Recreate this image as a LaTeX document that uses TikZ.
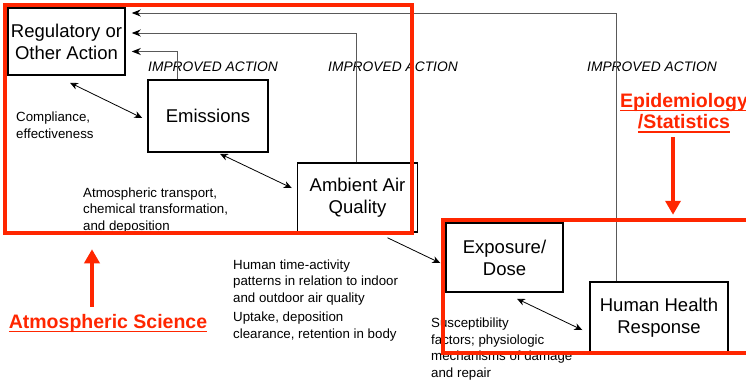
\documentclass[tikz,border=0pt]{standalone}
\usepackage{fontspec}
\setmainfont{Liberation Sans}
\usetikzlibrary{arrows.meta,calc}
\definecolor{myred}{RGB}{255,38,0}
\newcommand{\redul}[1]{\setbox0=\hbox{#1}\rlap{\rule[-4pt]{\wd0}{1.5pt}}\box0}
\begin{document}
\begin{tikzpicture}[x=1pt,y=-1pt,
  box/.style={draw=black,line width=1.5pt,fill=white,align=center,inner sep=0pt,font=\fontsize{18.5}{22}\selectfont},
  lbl/.style={anchor=base west,align=left,inner sep=0pt,font=\fontsize{13.3}{16.5}\selectfont},
  imp/.style={anchor=base west,inner sep=0pt,font=\fontsize{13.8}{16}\selectfont\itshape},
  conn/.style={line width=0.8pt,{Stealth[length=8pt,width=7pt]}-{Stealth[length=8pt,width=7pt]}},
  one/.style={line width=0.8pt,-{Stealth[length=8pt,width=7pt]}},
  fb/.style={line width=0.9pt,draw=black!65,-{Stealth[length=9pt,width=7pt,color=black]}},
  redbox/.style={draw=myred,line width=4.5pt,inner sep=0pt},
  redlbl/.style={text=myred,font=\fontsize{19.5}{21.5}\selectfont\bfseries,align=center,inner sep=0pt},
  redarr/.style={draw=myred,line width=3.5pt,-{Triangle[length=14pt,width=15pt]}}
]
\useasboundingbox (0,0) rectangle (746,380);
\fill[white] (0,0) rectangle (746,380);

% boxes
\node[box,minimum width=117pt,minimum height=67pt] (reg) at (66.5,41.5) {Regulatory or\\Other Action};
\node[box,minimum width=120pt,minimum height=72pt] (em) at (208,116) {Emissions};
\node[box,minimum width=120pt,minimum height=69pt] (amb) at (357.5,197.5) {Ambient Air\\Quality};
\node[box,minimum width=117pt,minimum height=69pt] (expo) at (504.5,257.5) {Exposure/\\Dose};
\node[box,minimum width=138pt,minimum height=71pt] (hh) at (659,317.5) {Human Health\\Response};

% labels (anchor base = baseline of last line)
\node[imp] (imp1) at (148,71) {IMPROVED ACTION};
\node[imp] (imp2) at (328,71) {IMPROVED ACTION};
\node[imp] (imp3) at (587,71) {IMPROVED ACTION};
\node[lbl] (l1) at (16,138) {Compliance,\\effectiveness};
\node[lbl] (l2) at (83,230) {Atmospheric transport,\\chemical transformation,\\and deposition};
\node[lbl] (l3) at (233,302) {Human time-activity\\patterns in relation to indoor\\and outdoor air quality};
\node[lbl] (l4) at (233,338) {Uptake, deposition\\clearance, retention in body};
\node[lbl] (l5) at (431,377) {Susceptibility\\factors; physiologic\\mechanisms of damage\\and repair};

% feedback lines
\draw[fb] ($(hh.north)+(-43,0)$) |- ($(reg.east)+(6,-28.5)$);
\draw[fb] ($(amb.north)+(-1,0)$) |- ($(reg.east)+(6,-8.5)$);
\draw[fb] ($(em.north)+(-31,0)$) |- ($(reg.east)+(6,10)$);

% connectors
\draw[conn] ($(reg.south)+(3.5,7)$) -- ($(em.west)+(-5,2)$);
\draw[conn] ($(em.south)+(12,1)$) -- ($(amb.west)+(-5,-9.5)$);
\draw[one] ($(amb.south)+(30,5)$) -- ($(expo.west)+(-5,5.5)$);
\draw[conn] ($(expo.south)+(12.5,6)$) -- ($(hh.west)+(-7,12.5)$);

% red overlays
\node[redbox,minimum width=407pt,minimum height=228pt] (rb1) at (208.5,119) {};
\node[redbox,minimum width=317pt,minimum height=133pt] (rb2) at (601.5,286.5) {};
\node[redlbl,anchor=base] (atm) at (108,328) {\redul{Atmospheric Science}};
\node[redlbl] (epi) at (684,113) {\redul{Epidemiology}\\\redul{/Statistics}};
\draw[redarr] ($(atm.north)+(-16,-7)$) -- ($(rb1.south)+(-116.5,14)$);
\draw[redarr] ($(epi.south)+(-11,4)$) -- ($(rb2.north)+(71.5,-3)$);
\end{tikzpicture}
\end{document}
